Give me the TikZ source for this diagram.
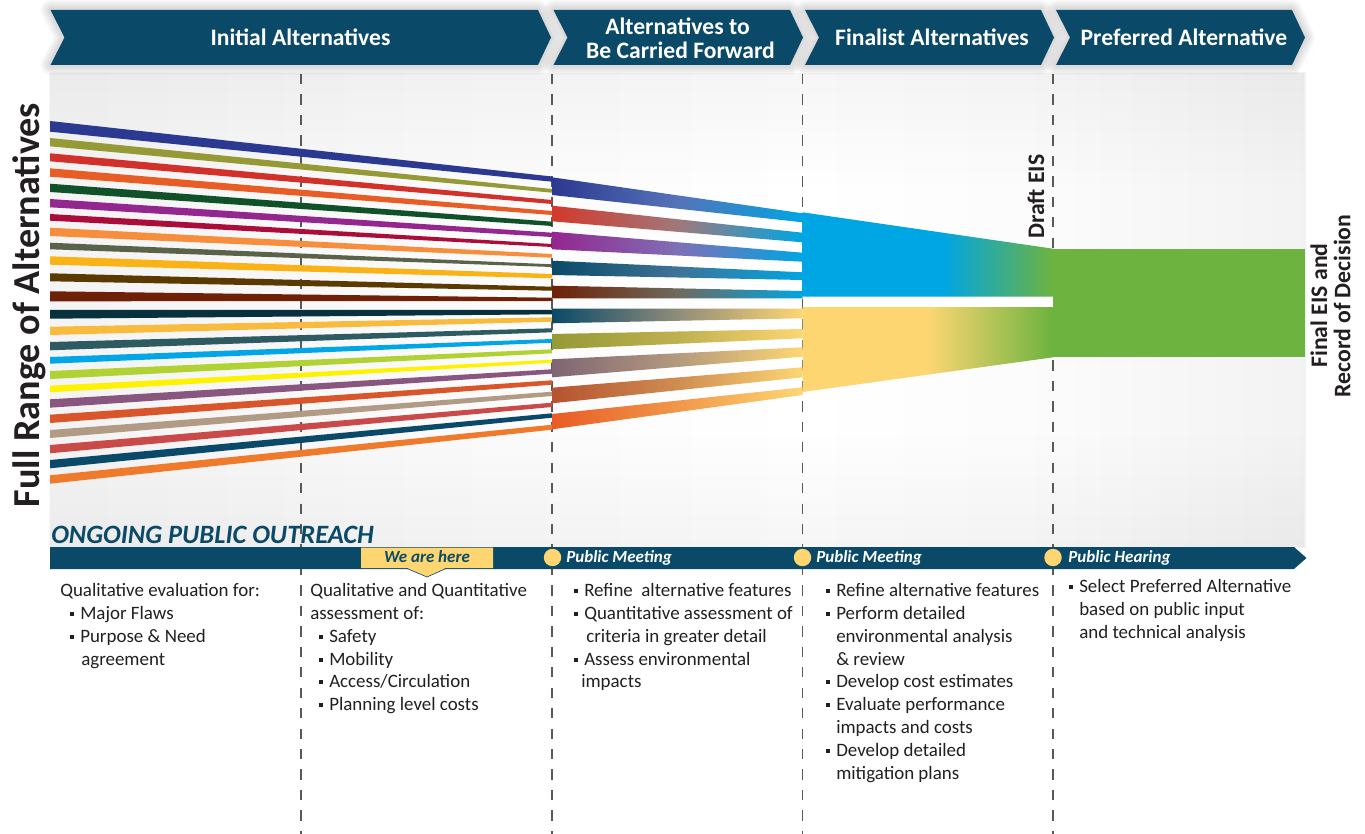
\documentclass[tikz,border=0pt]{standalone}
\usepackage{fontspec}
\setmainfont{Carlito}
\usetikzlibrary{fadings}
\definecolor{navy}{HTML}{0A4A68}
\definecolor{sun}{HTML}{FDD672}
\definecolor{sky}{HTML}{00A5E3}
\definecolor{leaf}{HTML}{6DB33F}
\definecolor{ink}{HTML}{231F20}
\definecolor{dashc}{HTML}{58595B}
\pgfdeclarehorizontalshading{panelsh}{100bp}{color(0bp)=(white!95!black); color(25bp)=(white!95.5!black); color(40bp)=(white!98!black); color(55bp)=(white!100!black); color(65bp)=(white!98.5!black); color(75bp)=(white!95!black); color(100bp)=(white!95!black)}
\pgfdeclarehorizontalshading{bluesh}{100bp}{color(0bp)=(sky); color(25bp)=(sky); color(53bp)=(sky); color(75bp)=(leaf); color(100bp)=(leaf)}
\pgfdeclarehorizontalshading{yellowsh}{100bp}{color(0bp)=(sun); color(25bp)=(sun); color(50bp)=(sun); color(75bp)=(leaf); color(100bp)=(leaf)}
\newcommand\stripe[5]{\definecolor{tmpc}{HTML}{#1}\fill[tmpc] (50,#2) -- (552,#4) -- (552,#5) -- (50,#3) -- cycle;}
\newcommand\band[7]{\definecolor{tmpa}{HTML}{#1}\definecolor{tmpb}{HTML}{#2}\shade[left color=tmpa,right color=#3,middle color=tmpb] (552,#4) -- (802.5,#6) -- (802.5,#7) -- (552,#5) -- cycle;}
\newcommand\chev[2]{%
  \foreach \w in {20,17,14,11,8,5}{\draw[black,opacity=.022,line width=\w*.75pt,line join=round] (#1,10) -- (#2-13,10) -- (#2,37.5) -- (#2-13,65) -- (#1,65) -- (#1+14,37.5) -- cycle;}
  \fill[navy] (#1,10) -- (#2-13,10) -- (#2,37.5) -- (#2-13,65) -- (#1,65) -- (#1+14,37.5) -- cycle;}
\newcommand\blt{\makebox[7.5pt][l]{\rule[.16em]{.21em}{.21em}}}
\tikzset{
  x=.75pt,y=-.75pt,
  body/.style={anchor=base west,inner sep=0,font=\fontsize{14.2pt}{16pt}\selectfont,text=ink},
  head/.style={inner sep=0,text=white,align=center,font=\fontsize{17.7pt}{20pt}\selectfont\bfseries},
  side/.style={inner sep=0,rotate=90,text=ink,font=\fontsize{17.8pt}{20pt}\selectfont\bfseries},
  meet/.style={anchor=base west,inner sep=0,text=white,font=\fontsize{12.75pt}{14pt}\selectfont\bfseries\itshape},
  dashline/.style={dashc,line width=1pt,dash pattern=on 7.7pt off 7.64pt},
  spot/.style={fill=sun},
}
\begin{document}
\begin{tikzpicture}
\useasboundingbox (0,0) rectangle (1365,834);
\fill[white] (0,0) rectangle (1365,834);
% panel
\path[shading=panelsh] (50,73) rectangle (1306,547);
\fill[black,opacity=.035,path fading=south] (50,73) rectangle (1306,190);
\fill[black,opacity=.035,path fading=north] (50,430) rectangle (1306,547);
% dashed phase lines
\foreach \x in {301,552,802.5,1053}{\draw[dashline] (\x,74) -- (\x,834);}
% stripes
\stripe{2B3990}{121}{131.7}{176.5}{181.7}
\stripe{959A36}{138}{146.3}{189}{192.7}
\stripe{D2302A}{153.3}{161.3}{200}{204}
\stripe{E85C25}{168.3}{176.7}{211}{215}
\stripe{11512A}{183.7}{192}{221.7}{226}
\stripe{93278F}{199}{207.3}{232.7}{237}
\stripe{AB0D3A}{214}{220.7}{244}{247}
\stripe{F68E3E}{227.7}{236}{254}{257.7}
\stripe{5A6349}{242.7}{249.3}{264.3}{267}
\stripe{FAB316}{256.3}{264.7}{274}{278.3}
\stripe{5A3A00}{273.3}{281.3}{286.7}{290.7}
\stripe{6E2106}{291.3}{301.3}{297.7}{301}
\stripe{06313D}{310}{318.7}{310}{314.3}
\stripe{F9BB3D}{326.7}{335}{317.3}{321.7}
\stripe{2E5A62}{342}{350.3}{328.3}{332.3}
\stripe{00A6E6}{357}{363.7}{339}{342.7}
\stripe{B0D235}{371}{379}{349.3}{353.3}
\stripe{FFF200}{385.7}{392.3}{359.7}{362.7}
\stripe{88567F}{399.3}{407.7}{369.3}{373.7}
\stripe{D9552A}{414.7}{423}{380.3}{384.7}
\stripe{B29B85}{430}{438}{391.7}{396}
\stripe{C94A49}{445}{453.3}{402.7}{407}
\stripe{0A4A68}{460}{468.3}{413.3}{417.7}
\stripe{EF7A2C}{475.3}{483.7}{424.7}{429.7}
% gradient bands
\band{2B3990}{5573B8}{sky}{177.3}{195}{213.3}{222.3}
\band{D2392C}{A0787A}{sky}{205.7}{221.3}{232.7}{242.3}
\band{93278F}{7F6FB5}{sky}{231.7}{249.3}{252.7}{261.7}
\band{0A4A68}{3F7396}{sky}{260.7}{275}{272.3}{280}
\band{6E2106}{6E6A5E}{sky}{285.7}{298.3}{291}{298.3}
\band{0A4A68}{8F8C7A}{sun}{308.7}{323.3}{308.7}{318.3}
\band{959A36}{BFB050}{sun}{334}{349.3}{329}{338.3}
\band{7E6674}{B49A7E}{sun}{359.3}{377.3}{347.3}{356.7}
\band{B5532F}{CF8D52}{sun}{387.7}{403.3}{367.3}{377.3}
\band{E85C25}{F1974A}{sun}{414}{429.3}{387.3}{395}
% merged blocks
\path[shading=bluesh] (802.5,212.3) -- (1053,248.7) -- (1053,296.7) -- (802.5,296.7) -- cycle;
\path[shading=yellowsh] (802.5,307) -- (1053,307) -- (1053,357.3) -- (802.5,392) -- cycle;
\fill[leaf] (1053,249) rectangle (1305,357);
\fill[white] (802.5,296.7) rectangle (1053,307);
% header chevrons
\chev{50.5}{551}
\chev{553.5}{803}
\chev{805}{1054}
\chev{1056}{1305}
\node[head] (h1) at (300.5,37) {Initial Alternatives};
\node[head] (h2a) at (677.5,26) {Alternatives to};
\node[head] (h2b) at (680.5,50) {Be Carried Forward};
\node[head] (h3) at (932,37) {Finalist Alternatives};
\node[head] (h4) at (1184,37) {Preferred Alternative};
% outreach bar
\node[anchor=base west,inner sep=0,text=navy,font=\fontsize{19.85pt}{22pt}\selectfont\bfseries\itshape] (out) at (51,543) {ONGOING PUBLIC OUTREACH};
\fill[navy] (50,547) -- (1294,547) -- (1306.5,558) -- (1294,569) -- (50,569) -- cycle;
\fill[sun] (361,547.7) -- (493,547.7) -- (493,568) -- (446,568) -- (427,576.7) -- (407,568) -- (361,568) -- cycle;
\draw[navy,line width=.5pt] (446,568.5) -- (427,577) -- (407,568.5);
\node[anchor=base,inner sep=0,text=navy,font=\fontsize{12.75pt}{14pt}\selectfont\bfseries\itshape] (here) at (427,562) {We are here};
\foreach \x in {552.5,802.5,1053}{\fill[spot] (\x,557.5) ellipse [x radius=8.7,y radius=8.7];}
\node[meet] (m1) at (566,562) {Public Meeting};
\node[meet] (m2) at (816,562) {Public Meeting};
\node[meet] (m3) at (1068,562) {Public Hearing};
% side labels
\node[rotate=90,inner sep=0,text=ink,font=\fontsize{28.6pt}{30pt}\selectfont\bfseries] (full) at (29,305) {Full Range of Alternatives};
\node[side] (draft) at (1036,196.5) {Draft EIS};
\node[side] (final) at (1319,305.5) {Final EIS and};
\node[side] (rod) at (1342,306) {Record of Decision};
% column 1
\node[body] (a1) at (60,596) {Qualitative evaluation for:};
\node[body] (a2) at (70,619) {\blt Major Flaws};
\node[body] (a3) at (70,642) {\blt Purpose \& Need};
\node[body] (a4) at (81,665) {agreement};
% column 2
\node[body] (b1) at (310,596) {Qualitative and Quantitative};
\node[body] (b2) at (310,619) {assessment of:};
\node[body] (b3) at (319,642) {\blt Safety};
\node[body] (b4) at (319,665) {\blt Mobility};
\node[body] (b5) at (319,687) {\blt Access/Circulation};
\node[body] (b6) at (319,710) {\blt Planning level costs};
% column 3
\node[body] (c1) at (574,596) {\blt Refine\ \ alternative features};
\node[body] (c2) at (574,619) {\blt Quantitative assessment of};
\node[body] (c3) at (586,642) {criteria in greater detail};
\node[body] (c4) at (574,665) {\blt Assess environmental};
\node[body] (c5) at (581,687) {impacts};
% column 4
\node[body] (d1) at (826,596) {\blt Refine alternative features};
\node[body] (d2) at (826,619) {\blt Perform detailed};
\node[body] (d3) at (836,642) {environmental analysis};
\node[body] (d4) at (836,665) {\& review};
\node[body] (d5) at (826,687) {\blt Develop cost estimates};
\node[body] (d6) at (826,710) {\blt Evaluate performance};
\node[body] (d7) at (836,733) {impacts and costs};
\node[body] (d8) at (826,756) {\blt Develop detailed};
\node[body] (d9) at (836,779) {mitigation plans};
% column 5
\node[body] (e1) at (1069,592) {\blt Select Preferred Alternative};
\node[body] (e2) at (1079,615) {based on public input};
\node[body] (e3) at (1079,638) {and technical analysis};
\end{tikzpicture}
\end{document}
